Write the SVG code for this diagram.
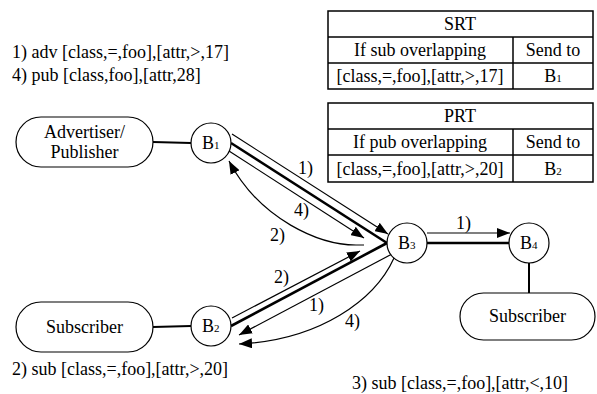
<svg xmlns="http://www.w3.org/2000/svg" width="597" height="394" viewBox="0 0 597 394">
<style>
text{font-family:"Liberation Serif","Times New Roman",Times,Tinos,"Nimbus Roman","FreeSerif","Noto Serif","DejaVu Serif",serif;font-size:18px;fill:#000}
.sub{font-size:11px}
.node{fill:#fff;stroke:#000;stroke-width:1.2}
.tbl{fill:none;stroke:#000;stroke-width:1.5}
.thin{fill:none;stroke:#000;stroke-width:1.2}
.thick{fill:none;stroke:#000;stroke-width:2.6}
.link{fill:none;stroke:#000;stroke-width:2}
.arr{marker-end:url(#ah)}
.c{text-anchor:middle}
</style>
<defs>
<marker id="ah" markerUnits="userSpaceOnUse" markerWidth="14" markerHeight="10" refX="13" refY="5" orient="auto">
<path d="M0,0 L13,5 L0,10 z" fill="#000"/>
</marker>
</defs>

<g id="notes">
<text x="12" y="58">1) adv [class,=,foo],[attr,&gt;,17]</text>
<text x="12" y="81">4) pub [class,foo],[attr,28]</text>
<text x="12" y="375">2) sub [class,=,foo],[attr,&gt;,20]</text>
<text x="352" y="389">3) sub [class,=,foo],[attr,&lt;,10]</text>
</g>

<g id="SRT">
<rect class="tbl" x="328" y="11" width="265" height="78"/>
<line class="tbl" x1="328" y1="37" x2="593" y2="37"/>
<line class="tbl" x1="328" y1="63" x2="593" y2="63"/>
<line class="tbl" x1="513" y1="37" x2="513" y2="89"/>
<text class="c" x="460" y="30">SRT</text>
<text class="c" x="420" y="56">If sub overlapping</text>
<text class="c" x="553" y="56">Send to</text>
<text class="c" x="420" y="82">[class,=,foo],[attr,&gt;,17]</text>
<text class="c" x="553" y="82">B<tspan class="sub">1</tspan></text>
</g>

<g id="PRT">
<rect class="tbl" x="328" y="103" width="265" height="79"/>
<line class="tbl" x1="328" y1="129" x2="593" y2="129"/>
<line class="tbl" x1="328" y1="155" x2="593" y2="155"/>
<line class="tbl" x1="513" y1="129" x2="513" y2="182"/>
<text class="c" x="460" y="122">PRT</text>
<text class="c" x="420" y="148">If pub overlapping</text>
<text class="c" x="553" y="148">Send to</text>
<text class="c" x="420" y="175">[class,=,foo],[attr,&gt;,20]</text>
<text class="c" x="553" y="175">B<tspan class="sub">2</tspan></text>
</g>

<g id="connectors">
<line class="link" x1="153" y1="142" x2="191" y2="143"/>
<line class="link" x1="153" y1="327" x2="191" y2="326"/>
<line class="link" x1="529" y1="263" x2="529" y2="293"/>
<line class="thick" x1="231" y1="143" x2="387" y2="243"/>
<line class="thin arr" x1="232" y1="134" x2="388" y2="234"/>
<line class="thin arr" x1="229" y1="151" x2="364" y2="238"/>
<path class="thin arr" d="M364,245 L356,245 C320,245 260,220 229,161"/>
<line class="thick" x1="231" y1="326" x2="387" y2="243"/>
<line class="thin arr" x1="232" y1="318" x2="360" y2="251"/>
<line class="thin arr" x1="392" y1="254" x2="239" y2="335"/>
<path class="thin arr" d="M394,258 C375,300 320,340 239,344"/>
<line class="thick" x1="427" y1="243" x2="509" y2="243"/>
<line class="thin arr" x1="427" y1="233" x2="510" y2="233"/>
<text x="298" y="174">1)</text>
<text x="294" y="216">4)</text>
<text x="270" y="241">2)</text>
<text x="274" y="283">2)</text>
<text x="309" y="311">1)</text>
<text x="345" y="327">4)</text>
<text x="456" y="229">1)</text>
</g>

<g id="advertiser">
<rect class="node" x="16" y="117" width="137" height="50" rx="25"/>
<text class="c" x="84.5" y="138">Advertiser/</text>
<text class="c" x="84.5" y="158">Publisher</text>
</g>
<g id="subscriber1">
<rect class="node" x="16" y="302" width="137" height="50" rx="25"/>
<text class="c" x="84.5" y="333">Subscriber</text>
</g>
<g id="subscriber2">
<rect class="node" x="460" y="293" width="135" height="47" rx="23.5"/>
<text class="c" x="527.5" y="322">Subscriber</text>
</g>
<g id="B1">
<circle class="node" cx="211" cy="143" r="20"/>
<text x="202" y="149">B<tspan class="sub">1</tspan></text>
</g>
<g id="B2">
<circle class="node" cx="211" cy="326" r="20"/>
<text x="202" y="332">B<tspan class="sub">2</tspan></text>
</g>
<g id="B3">
<circle class="node" cx="407" cy="243" r="20"/>
<text x="398" y="249">B<tspan class="sub">3</tspan></text>
</g>
<g id="B4">
<circle class="node" cx="529" cy="243" r="20"/>
<text x="520" y="249">B<tspan class="sub">4</tspan></text>
</g>
</svg>
